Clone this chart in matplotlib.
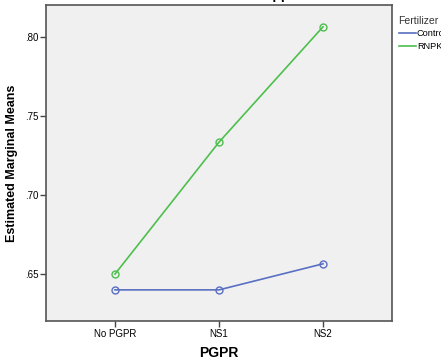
import matplotlib

matplotlib.use("Agg")
import matplotlib.pyplot as plt
from matplotlib.lines import Line2D

# estimated marginal means
pgpr = ["No PGPR", "NS1", "NS2"]
fertilizer = ["Control", "RNPK"]
control = [0.640, 0.640, 0.6565]
rnpk = [0.650, 0.7335, 0.8065]
yticks = [0.65, 0.70, 0.75, 0.80]

colors = ["#5a6fc2", "#4dbf4d"]

plt.rcParams["font.family"] = ["Liberation Sans", "DejaVu Sans"]

fig = plt.figure(figsize=(4.41, 3.63), dpi=100)
ax = fig.add_axes([46 / 441, 42 / 363, 346 / 441, 316 / 363])
ax.set_facecolor("#f0f0f0")

x = list(range(len(pgpr)))
for values, color in zip((control, rnpk), colors):
    ax.plot(x, values, color=color, linewidth=1.2, marker="o", markersize=5,
            markerfacecolor="none", markeredgewidth=1.0)

ax.set_xlim(-0.663, 2.663)
ax.set_ylim(0.6203, 0.8203)
ax.set_xticks(x)
ax.set_xticklabels(pgpr, fontsize=7)
ax.set_yticks(yticks)
ax.set_yticklabels([f"{v:.2f}".lstrip("0") for v in yticks], fontsize=7)
ax.tick_params(direction="out", length=4, width=1, color="#444444", pad=1.5)
for spine in ax.spines.values():
    spine.set_color("#555555")
    spine.set_linewidth(1.2)

ax.set_xlabel("PGPR", fontsize=10, fontweight="bold", labelpad=5)
ax.set_ylabel("Estimated Marginal Means", fontsize=9, fontweight="bold", labelpad=5)

# title sits above the top edge in the original, only the "pp" descenders show
fig.text(279 / 441, 1 + 1 / 363, "Copper", fontsize=10,
         fontweight="bold", ha="center", va="baseline")

handles = [Line2D([], [], color=c, linewidth=1.2) for c in colors]
leg = fig.legend(handles, fertilizer, loc="upper left",
                 bbox_to_anchor=(394 / 441, 1 - 11 / 363),
                 title="Fertilizer", fontsize=6.6, title_fontsize=7.5, frameon=False,
                 handlelength=1.85, handletextpad=0.15, borderpad=0, labelspacing=0.4,
                 alignment="left")
leg.get_title().set_color("#333333")

fig.savefig("out.png", dpi=100)
